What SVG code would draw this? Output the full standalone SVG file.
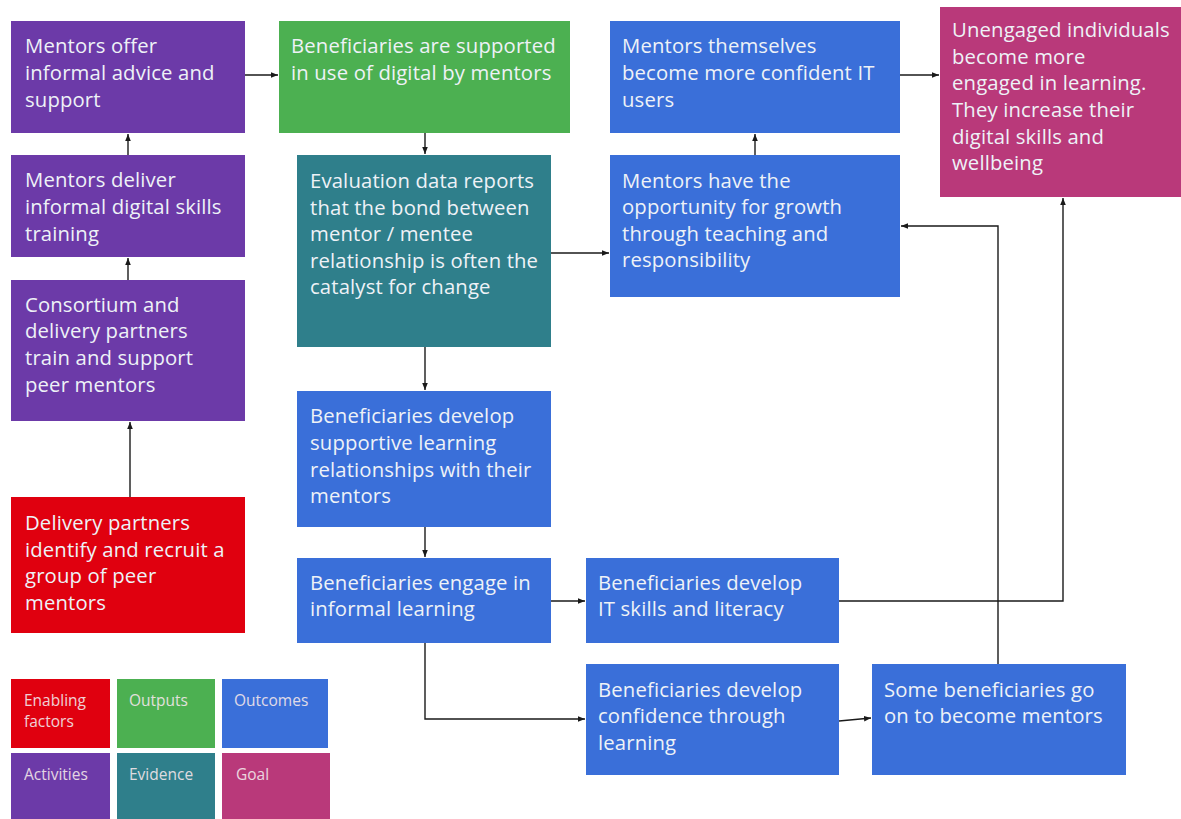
<svg xmlns="http://www.w3.org/2000/svg" width="1181" height="819" viewBox="0 0 1181 819">
<defs>
<marker id="ah" viewBox="0 0 10 10" refX="10" refY="5" markerWidth="7" markerHeight="7" markerUnits="userSpaceOnUse" orient="auto">
<path d="M0,1 L10,5 L0,9 Z" fill="#1a1a1a"/>
</marker>
<style>
.t{font-family:"Open Sans","Liberation Sans",sans-serif;font-size:20.3px;letter-spacing:0.15px;fill:#eef2f7}
.lg{font-family:"Open Sans","Liberation Sans",sans-serif;font-size:15.5px;fill:#f2e6ea;opacity:0.9}
.pu{fill:#6c3aa8}.gr{fill:#4cb051}.bl{fill:#3a6fd9}.rd{fill:#e0000f}.te{fill:#2f7f8b}.mg{fill:#b9397a}
.c{fill:none;stroke:#1a1a1a;stroke-width:1.4;marker-end:url(#ah)}
</style>
</defs>
<rect width="1181" height="819" fill="#ffffff"/>
<g id="connectors">
<path class="c" d="M245,75 H278"/>
<path class="c" d="M128,155 V134"/>
<path class="c" d="M128,280 V258"/>
<path class="c" d="M130,497 V422"/>
<path class="c" d="M425,133 V154"/>
<path class="c" d="M551,253 H609"/>
<path class="c" d="M425,347 V390"/>
<path class="c" d="M425,527 V557"/>
<path class="c" d="M551,601 H585"/>
<path class="c" d="M425,643 V719 H585"/>
<path class="c" d="M839,721 L871,718"/>
<path class="c" d="M755,155 V134"/>
<path class="c" d="M900,75 H939"/>
<path class="c" d="M839,601 H1063 V198"/>
<path class="c" d="M998,664 V226 H901"/>
</g>
<g id="nA"><rect class="pu" x="11" y="21" width="234" height="112"/><text class="t"><tspan x="25" y="53">Mentors offer</tspan><tspan x="25" y="80">informal advice and</tspan><tspan x="25" y="107">support</tspan></text></g>
<g id="nB"><rect class="pu" x="11" y="155" width="234" height="102"/><text class="t"><tspan x="25" y="187">Mentors deliver</tspan><tspan x="25" y="214">informal digital skills</tspan><tspan x="25" y="241">training</tspan></text></g>
<g id="nC"><rect class="pu" x="11" y="280" width="234" height="141"/><text class="t"><tspan x="25" y="312">Consortium and</tspan><tspan x="25" y="338">delivery partners</tspan><tspan x="25" y="365">train and support</tspan><tspan x="25" y="392">peer mentors</tspan></text></g>
<g id="nD"><rect class="rd" x="11" y="497" width="234" height="136"/><text class="t"><tspan x="25" y="530">Delivery partners</tspan><tspan x="25" y="557">identify and recruit a</tspan><tspan x="25" y="583">group of peer</tspan><tspan x="25" y="610">mentors</tspan></text></g>
<g id="nE"><rect class="gr" x="279" y="21" width="291" height="112"/><text class="t"><tspan x="291" y="53">Beneficiaries are supported</tspan><tspan x="291" y="80">in use of digital by mentors</tspan></text></g>
<g id="nF"><rect class="te" x="297" y="155" width="254" height="192"/><text class="t"><tspan x="310" y="188">Evaluation data reports</tspan><tspan x="310" y="215">that the bond between</tspan><tspan x="310" y="241">mentor / mentee</tspan><tspan x="310" y="268">relationship is often the</tspan><tspan x="310" y="294">catalyst for change</tspan></text></g>
<g id="nG"><rect class="bl" x="297" y="391" width="254" height="136"/><text class="t"><tspan x="310" y="423">Beneficiaries develop</tspan><tspan x="310" y="450">supportive learning</tspan><tspan x="310" y="477">relationships with their</tspan><tspan x="310" y="503">mentors</tspan></text></g>
<g id="nH"><rect class="bl" x="297" y="558" width="254" height="85"/><text class="t"><tspan x="310" y="590">Beneficiaries engage in</tspan><tspan x="310" y="616">informal learning</tspan></text></g>
<g id="nI"><rect class="bl" x="586" y="558" width="253" height="85"/><text class="t"><tspan x="598" y="590">Beneficiaries develop</tspan><tspan x="598" y="616">IT skills and literacy</tspan></text></g>
<g id="nJ"><rect class="bl" x="586" y="664" width="253" height="111"/><text class="t"><tspan x="598" y="697">Beneficiaries develop</tspan><tspan x="598" y="723">confidence through</tspan><tspan x="598" y="750">learning</tspan></text></g>
<g id="nK"><rect class="bl" x="872" y="664" width="254" height="111"/><text class="t"><tspan x="884" y="697">Some beneficiaries go</tspan><tspan x="884" y="723">on to become mentors</tspan></text></g>
<g id="nL"><rect class="bl" x="610" y="21" width="290" height="112"/><text class="t"><tspan x="622" y="53">Mentors themselves</tspan><tspan x="622" y="80">become more confident IT</tspan><tspan x="622" y="107">users</tspan></text></g>
<g id="nM"><rect class="bl" x="610" y="155" width="290" height="142"/><text class="t"><tspan x="622" y="188">Mentors have the</tspan><tspan x="622" y="214">opportunity for growth</tspan><tspan x="622" y="241">through teaching and</tspan><tspan x="622" y="267">responsibility</tspan></text></g>
<g id="nN"><rect class="mg" x="940" y="7" width="241" height="190"/><text class="t"><tspan x="952" y="37">Unengaged individuals</tspan><tspan x="952" y="64">become more</tspan><tspan x="952" y="90">engaged in learning.</tspan><tspan x="952" y="117">They increase their</tspan><tspan x="952" y="144">digital skills and</tspan><tspan x="952" y="170">wellbeing</tspan></text></g>
<g id="legend">
<rect class="rd" x="11" y="679" width="99" height="69"/><text class="lg"><tspan x="24" y="706">Enabling</tspan><tspan x="24" y="727">factors</tspan></text>
<rect class="gr" x="117" y="679" width="98" height="69"/><text class="lg" x="129" y="706">Outputs</text>
<rect class="bl" x="222" y="679" width="106" height="69"/><text class="lg" x="234" y="706">Outcomes</text>
<rect class="pu" x="11" y="753" width="99" height="66"/><text class="lg" x="24" y="780">Activities</text>
<rect class="te" x="117" y="753" width="98" height="66"/><text class="lg" x="129" y="780">Evidence</text>
<rect class="mg" x="222" y="753" width="108" height="66"/><text class="lg" x="236" y="780">Goal</text>
</g>
</svg>
